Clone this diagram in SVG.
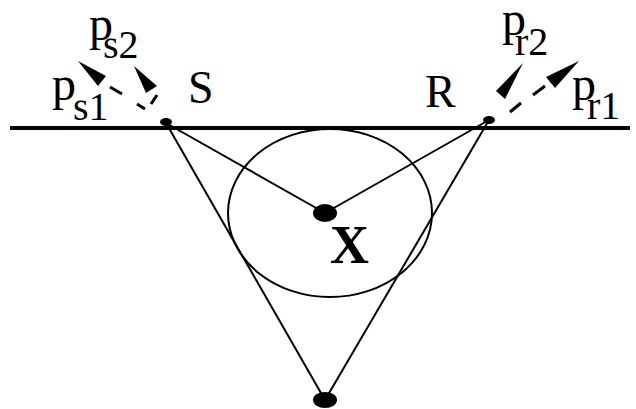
<svg xmlns="http://www.w3.org/2000/svg" width="636" height="409" viewBox="0 0 636 409">
<style>
.ln{stroke:#000;stroke-width:2;fill:none}
.base{stroke:#000;stroke-width:4;fill:none}
.dot{fill:#000}
.t{font-family:"Liberation Serif","DejaVu Serif",serif;fill:#000}
.big{font-size:48px}
.sub{font-size:40px}
.lbl{font-size:46px}
.x{font-family:"Liberation Serif","DejaVu Serif",serif;font-weight:bold;font-size:54px;fill:#000}
.ah{fill:#000}
.dash{stroke:#000;stroke-width:3;fill:none}
</style>
<rect width="636" height="409" fill="#fff"/>
<g id="ground"><line class="base" x1="10" y1="128" x2="630" y2="128"/></g>
<g id="connectors">
<line class="ln" x1="166" y1="123" x2="325" y2="213"/>
<line class="ln" x1="489" y1="120" x2="325" y2="213"/>
<line class="ln" x1="166" y1="123" x2="325" y2="400"/>
<line class="ln" x1="489" y1="120" x2="325" y2="400"/>
</g>
<g id="circle"><ellipse class="ln" cx="330" cy="213" rx="102" ry="84"/></g>
<g id="S"><ellipse class="dot" cx="166" cy="122" rx="6" ry="4"/><text class="t lbl" x="188" y="103">S</text></g>
<g id="R"><ellipse class="dot" cx="489" cy="120" rx="6" ry="4"/><text class="t lbl" x="425" y="107">R</text></g>
<g id="X"><ellipse class="dot" cx="325" cy="213" rx="12" ry="9"/><text class="x" x="330" y="263">X</text></g>
<g id="bottom"><ellipse class="dot" cx="325" cy="400" rx="12" ry="8"/></g>
<g id="ps1">
<path class="ah" d="M78,61 L106,76 L98,86 Z"/>
<line class="dash" x1="110" y1="87" x2="122" y2="94"/>
<text class="t big" x="52" y="100">p</text><text class="t sub" x="73" y="120">s1</text>
</g>
<g id="ps2">
<path class="ah" d="M134,66 L157,86 L146,93 Z"/>
<line class="dash" x1="157" y1="95" x2="151" y2="104"/>
<line class="dash" x1="137" y1="104" x2="145" y2="109"/>
<text class="t big" x="89" y="40">p</text><text class="t sub" x="103" y="58">s2</text>
</g>
<g id="pr2">
<path class="ah" d="M523,63 L505,99 L496,91 Z"/>
<line class="dash" x1="510" y1="112" x2="521" y2="103"/>
<text class="t big" x="502" y="35">p</text><text class="t sub" x="515" y="55">r2</text>
</g>
<g id="pr1">
<path class="ah" d="M579,61 L555,88 L546,77 Z"/>
<line class="dash" x1="533" y1="95" x2="545" y2="86"/>
<text class="t big" x="572" y="100">p</text><text class="t sub" x="587" y="119">r1</text>
</g>
</svg>
